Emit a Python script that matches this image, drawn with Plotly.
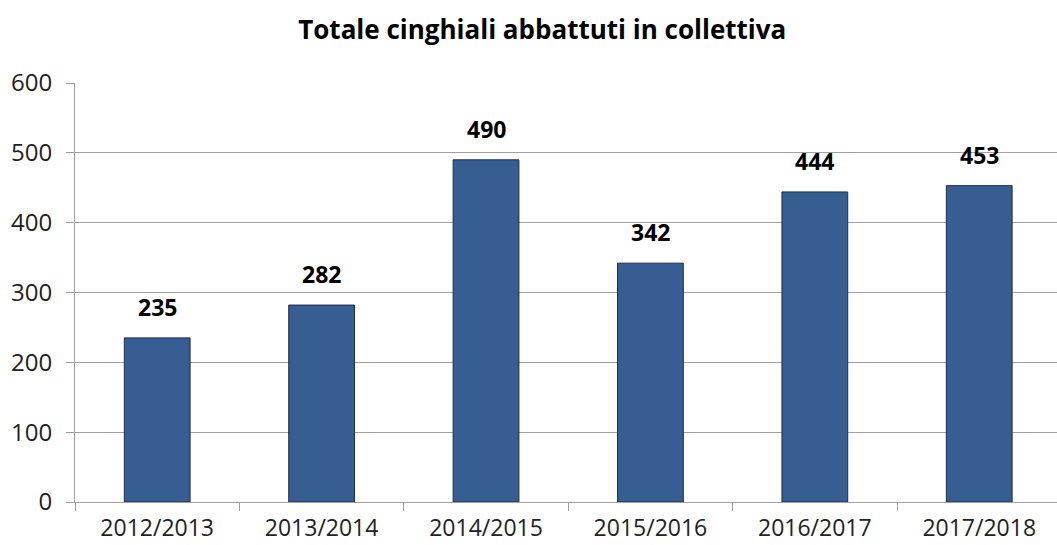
import plotly.graph_objects as go

categories = ["2012/2013", "2013/2014", "2014/2015", "2015/2016", "2016/2017", "2017/2018"]
values = [235, 282, 490, 342, 444, 453]
y_ticks = [0, 100, 200, 300, 400, 500, 600]
title_text = "Totale cinghiali abbattuti in collettiva"

font_family = "Open Sans, Noto Sans, DejaVu Sans, sans-serif"

fig = go.Figure()
fig.add_trace(go.Bar(
    x=categories,
    y=values,
    width=0.4,
    marker=dict(color="#375E92", line=dict(color="#1C2C48", width=1)),
    hoverinfo="x+y",
))

for c, v in zip(categories, values):
    fig.add_annotation(
        x=c, y=v, text=f"<b>{v}</b>", showarrow=False,
        yanchor="bottom", yshift=13,
        font=dict(family=font_family, size=23, color="#000000"),
    )

fig.update_layout(
    width=1057, height=545,
    margin=dict(l=75, r=0, t=83, b=43, autoexpand=False),
    paper_bgcolor="white", plot_bgcolor="white",
    showlegend=False,
    title=dict(
        text=f"<b>{title_text}</b>",
        x=0.513, xanchor="center", y=0.945, yanchor="middle",
        font=dict(family=font_family, size=26, color="#000000"),
    ),
    xaxis=dict(
        type="category",
        range=[-0.5, 5.473],
        automargin=False,
        showline=True, linecolor="#A0A0A0", linewidth=1,
        ticks="outside", ticklen=8, tickcolor="#A0A0A0",
        tickson="boundaries",
        ticklabelstandoff=5,
        tickfont=dict(family=font_family, size=23, color="#222222"),
        showgrid=False,
    ),
    yaxis=dict(
        range=[0, 600],
        tickvals=y_ticks,
        automargin=False,
        showline=True, linecolor="#A0A0A0", linewidth=1,
        ticks="outside", ticklen=8, tickcolor="#A0A0A0",
        ticklabelstandoff=9,
        showgrid=True, gridcolor="#A0A0A0", gridwidth=1,
        zeroline=False,
        tickfont=dict(family=font_family, size=24, color="#222222"),
    ),
)

fig.write_html(
    "out.html",
    config={"displayModeBar": False},
    post_script="document.body.style.margin='0px';document.body.style.overflow='hidden';",
)
